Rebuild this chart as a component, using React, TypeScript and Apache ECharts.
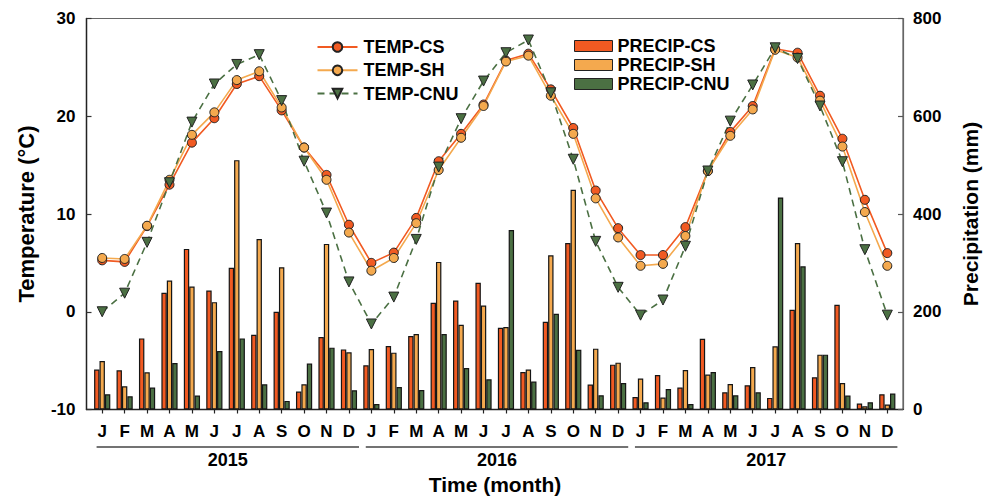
import React, { useEffect, useRef } from 'react';
import * as echarts from 'echarts';

const MONTHS = ['J', 'F', 'M', 'A', 'M', 'J', 'J', 'A', 'S', 'O', 'N', 'D'];
const YEARS = ['2015', '2016', '2017'];
const TEMP_TICKS = [-10, 0, 10, 20, 30];
const PRECIP_TICKS = [0, 200, 400, 600, 800];

const TEMP_CS = [5.26, 5.1, 8.76, 13.0, 17.3, 19.8, 23.3, 24.1, 20.6, 16.8, 14.0, 8.9,
  5.0, 6.05, 9.6, 15.4, 18.2, 21.2, 25.7, 26.4, 22.75, 18.8, 12.4, 8.55,
  5.8, 5.8, 8.66, 14.4, 18.4, 21.05, 26.9, 26.5, 22.1, 17.7, 11.45, 6.0];
const TEMP_SH = [5.5, 5.4, 8.8, 13.5, 18.1, 20.4, 23.7, 24.6, 20.9, 16.8, 13.5, 8.1,
  4.2, 5.5, 9.06, 14.5, 17.8, 21.05, 25.6, 26.2, 22.1, 18.2, 11.6, 7.6,
  4.7, 4.9, 7.75, 14.4, 18.0, 20.7, 26.8, 26.0, 21.6, 16.9, 10.2, 4.7];
const TEMP_CNU = [0.0, 1.9, 7.1, 13.2, 19.4, 23.3, 25.3, 26.3, 21.6, 15.4, 10.1, 3.05,
  -1.25, 1.5, 7.4, 14.8, 19.75, 23.6, 26.5, 27.8, 22.4, 15.6, 7.2, 2.5,
  -0.35, 1.2, 6.7, 14.4, 19.5, 23.2, 27.0, 25.9, 21.05, 15.35, 6.35, -0.35];

const PRECIP_CS = [81.6, 80.2, 145.5, 238.8, 328.6, 243.5, 289.8, 153, 200, 36.7, 148.2, 123,
  90.4, 129.8, 150.2, 218.4, 223, 259.2, 167.3, 76.7, 179.6, 340.8, 51, 91.8,
  25.7, 70.6, 44.9, 144.9, 35.3, 49.6, 23.7, 204, 65.9, 214.3, 12.2, 31.2];
const PRECIP_SH = [99.2, 47.6, 76.1, 263.9, 251.6, 219.6, 510.2, 349, 291, 51.6, 338.8, 117,
  123.7, 116.3, 154.3, 302, 173.5, 212.9, 168.6, 81.6, 315.5, 449.6, 124.5, 95.9,
  63.3, 24.5, 80.8, 71.4, 52.2, 86.9, 129.2, 340.8, 112.2, 54.3, 6.7, 10.2];
const PRECIP_CNU = [31.2, 27.1, 44.9, 95.1, 28.6, 119.6, 145.5, 51.6, 17.6, 93.9, 126.5, 39.4,
  11.4, 46.1, 40, 154.3, 84.9, 61.8, 367.3, 57.1, 195.9, 122.4, 29.2, 54.3,
  14.9, 42, 11.4, 76.7, 29.2, 35.3, 433.9, 293, 112.2, 28.6, 14.9, 32.7];

const FONT = '"Liberation Sans", Arial, sans-serif';
const C_CS = '#F15A22';
const C_SH = '#F4A94E';
const C_CNU = '#4B7043';

export default function App() {
  const ref = useRef<HTMLDivElement>(null);
  useEffect(() => {
    document.body.style.margin = '0';
    const chart = echarts.init(ref.current!, null, { renderer: 'svg' });
    const pair = (arr: number[]) => arr.map((v, i) => [i, v]);
    const monthIdx = TEMP_CS.map((_, i) => i);

    const barSeries = (name: string, color: string, data: number[]) => ({
      name,
      type: 'bar',
      xAxisIndex: 0,
      yAxisIndex: 1,
      data: pair(data),
      barWidth: 5.4,
      barGap: '0%',
      itemStyle: { color, borderColor: '#151515', borderWidth: 1.2 },
      z: 2,
    });
    const lineSeries = (name: string, color: string, data: number[], dashed: boolean) => ({
      name,
      type: 'line',
      xAxisIndex: 0,
      yAxisIndex: 0,
      data: pair(data),
      symbol: dashed ? 'triangle' : 'circle',
      symbolRotate: dashed ? 180 : 0,
      symbolSize: dashed ? 10 : 9,
      lineStyle: { color, width: 1.6, type: dashed ? [7, 5] : 'solid' },
      itemStyle: { color, borderColor: '#222', borderWidth: 1 },
      z: 5,
    });

    chart.setOption({
      animation: false,
      backgroundColor: '#fff',
      grid: {
        left: 86.5, top: 18.5, width: 816.5, height: 391,
        show: true, borderColor: '#666', borderWidth: 1.2, backgroundColor: 'transparent',
      },
      legend: [
        {
          data: ['TEMP-CS', 'TEMP-SH', 'TEMP-CNU'],
          orient: 'vertical', left: 311.5, top: 33,
          itemWidth: 40, itemHeight: 12, itemGap: 5.3,
          textStyle: { fontFamily: FONT, fontWeight: 'bold', fontSize: 18, color: '#000', lineHeight: 18, padding: [0, 0, 0, 1] },
        },
        {
          data: ['PRECIP-CS', 'PRECIP-SH', 'PRECIP-CNU'],
          orient: 'vertical', left: 569, top: 32,
          icon: 'rect', itemWidth: 38, itemHeight: 11, itemGap: 1,
          itemStyle: { borderColor: '#222', borderWidth: 1 },
          textStyle: { fontFamily: FONT, fontWeight: 'bold', fontSize: 18, color: '#000', lineHeight: 18, padding: [0, 0, 0, 0] },
        },
      ],
      xAxis: {
        type: 'value', min: -0.7, max: 35.7,
        splitLine: { show: false },
        axisLine: { show: true, onZero: false, lineStyle: { color: '#222', width: 1.4 } },
        axisTick: { show: true, inside: false, length: 4, customValues: monthIdx, lineStyle: { color: '#222', width: 1.2 } },
        axisLabel: {
          customValues: monthIdx,
          formatter: (v: number) => MONTHS[Math.round(v) % 12],
          fontFamily: FONT, fontWeight: 'bold', fontSize: 17, color: '#000', margin: 13,
        },
      },
      yAxis: [
        {
          type: 'value', min: TEMP_TICKS[0], max: TEMP_TICKS[TEMP_TICKS.length - 1], interval: 10,
          splitLine: { show: false },
          axisLine: { show: true, onZero: false, lineStyle: { color: '#222', width: 1.4 } },
          axisTick: { show: true, inside: true, length: 5, lineStyle: { color: '#333', width: 1.2 } },
          axisLabel: { fontFamily: FONT, fontWeight: 'bold', fontSize: 17, color: '#000', margin: 11 },
        },
        {
          type: 'value', position: 'right', min: PRECIP_TICKS[0], max: PRECIP_TICKS[PRECIP_TICKS.length - 1], interval: 200,
          splitLine: { show: false },
          axisLine: { show: true, onZero: false, lineStyle: { color: '#666', width: 1.2 } },
          axisTick: { show: true, inside: true, length: 5, lineStyle: { color: '#555', width: 1.2 } },
          axisLabel: { fontFamily: FONT, fontWeight: 'bold', fontSize: 17, color: '#000', margin: 10 },
        },
      ],
      series: [
        barSeries('PRECIP-CS', C_CS, PRECIP_CS),
        barSeries('PRECIP-SH', C_SH, PRECIP_SH),
        barSeries('PRECIP-CNU', C_CNU, PRECIP_CNU),
        lineSeries('TEMP-CS', C_CS, TEMP_CS, false),
        lineSeries('TEMP-SH', C_SH, TEMP_SH, false),
        lineSeries('TEMP-CNU', C_CNU, TEMP_CNU, true),
      ],
    });

    const px = (v: number) => chart.convertToPixel({ xAxisIndex: 0 }, v) as number;
    const graphics: any[] = [];
    YEARS.forEach((yr, k) => {
      graphics.push({
        type: 'line',
        shape: { x1: px(12 * k - 0.25), y1: 447, x2: px(12 * k + 11.45), y2: 447 },
        style: { stroke: '#444', lineWidth: 1.5 },
      });
      graphics.push({
        type: 'text', x: px(12 * k + 5.6), y: 460,
        style: { text: yr, fontFamily: FONT, fontWeight: 'bold', fontSize: 18, fill: '#000', align: 'center', verticalAlign: 'middle' },
      });
    });
    graphics.push({
      type: 'text', x: 495, y: 484,
      style: { text: 'Time (month)', fontFamily: FONT, fontWeight: 'bold', fontSize: 21, fill: '#000', align: 'center', verticalAlign: 'middle' },
    });
    graphics.push({
      type: 'text', x: 26, y: 214, rotation: Math.PI / 2,
      style: { text: 'Temperature (°C)', fontFamily: FONT, fontWeight: 'bold', fontSize: 22, fill: '#000', align: 'center', verticalAlign: 'middle' },
    });
    graphics.push({
      type: 'text', x: 970, y: 214, rotation: Math.PI / 2,
      style: { text: 'Precipitation (mm)', fontFamily: FONT, fontWeight: 'bold', fontSize: 21, fill: '#000', align: 'center', verticalAlign: 'middle' },
    });
    chart.setOption({ graphic: graphics });

    return () => chart.dispose();
  }, []);
  return <div ref={ref} style={{ position: 'fixed', left: 0, top: 0, width: 992, height: 497 }} />;
}
